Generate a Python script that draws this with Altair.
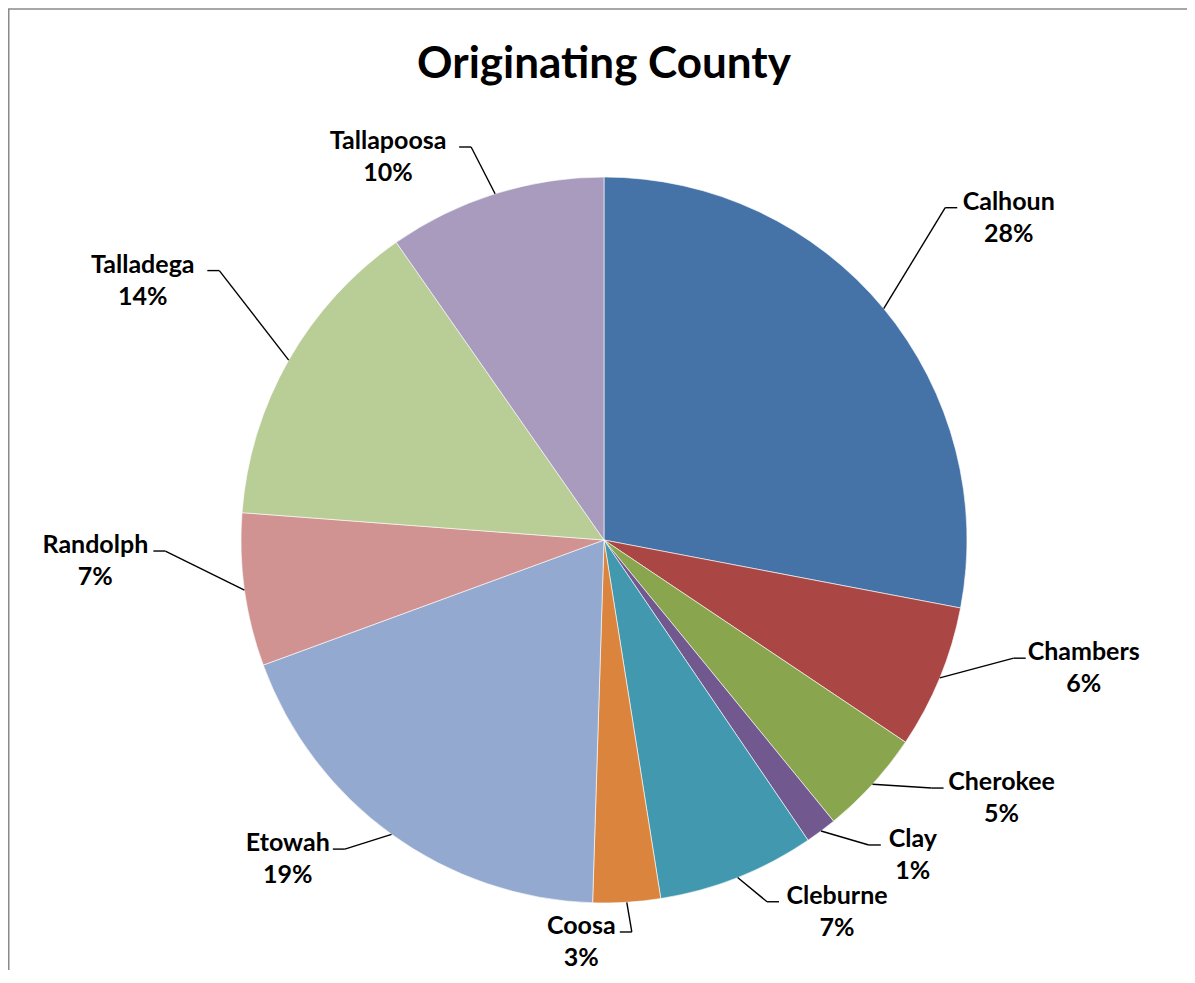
import altair as alt
import pandas as pd

# ---- data ----
counties = ["Calhoun", "Chambers", "Cherokee", "Clay", "Cleburne",
            "Coosa", "Etowah", "Randolph", "Talladega", "Tallapoosa"]
shares = [28.0, 6.4, 4.7, 1.4, 7.0, 3.0, 18.9, 6.8, 14.1, 9.7]
colors = ["#4572A7", "#AA4643", "#89A54E", "#71588F", "#4198AF",
          "#DB843D", "#93A9CF", "#D19392", "#B9CD96", "#A99BBD"]
title_text = ["Originating County"]

# ---- layout / style parameters ----
W, H = 1179, 962          # plot area
CX, CY = 596, 532         # pie centre in plot pixels
R = 363                   # pie radius
K = 1.22                  # leader elbow radius factor
LIFT = 50                 # labels sit a little higher than the slice middle
YMIN, YMAX = -392, 393    # keep labels inside the chart box
HSEG = 12                 # horizontal leader segment
GAP = 6                   # gap between leader and label
CHW = 13                  # approx label char width
FONT = "Lato"

df = pd.DataFrame({"county": counties, "value": shares,
                   "idx": list(range(len(counties)))})

xs = alt.Scale(domain=[-CX, W - CX], nice=False, zero=False)
ys = alt.Scale(domain=[CY - H, CY], nice=False, zero=False)

base = alt.Chart(df)

pie = base.mark_arc(outerRadius=R, stroke="white", strokeWidth=0.6).encode(
    theta=alt.Theta("value:Q", stack=True),
    color=alt.Color("county:N", scale=alt.Scale(domain=counties, range=colors),
                    legend=None),
    order=alt.Order("idx:Q"),
    x=alt.XDatum(0, type="quantitative", scale=xs, axis=None),
    y=alt.YDatum(0, type="quantitative", scale=ys, axis=None),
)

geo = (
    base.transform_window(cum="sum(value)", sort=[alt.SortField("idx")])
    .transform_joinaggregate(total="sum(value)")
    .transform_calculate(mid="(datum.cum - datum.value/2)/datum.total*2*PI")
    .transform_calculate(x0=f"{R}*sin(datum.mid)")
    .transform_calculate(y0=f"{R}*cos(datum.mid)")
    .transform_calculate(ex=f"{K*R}*sin(datum.mid)")
    .transform_calculate(
        ey=f"clamp({K*R}*cos(datum.mid) + {LIFT}, {YMIN}, {YMAX})")
    .transform_calculate(side="datum.ex > 30 ? 1 : -1")
    .transform_calculate(hx=f"datum.ex + datum.side*{HSEG}")
    .transform_calculate(
        tx=f"datum.hx + datum.side*({GAP} + length(datum.county)*{CHW}/2)")
    .transform_calculate(
        label="datum.county + '\\n' + format(datum.value/datum.total, '.0%')")
)

lead1 = geo.mark_rule(color="black", strokeWidth=1.4).encode(
    x=alt.X("x0:Q", scale=xs, axis=None),
    y=alt.Y("y0:Q", scale=ys, axis=None),
    x2="ex:Q",
    y2="ey:Q",
)
lead2 = geo.mark_rule(color="black", strokeWidth=1.4).encode(
    x=alt.X("ex:Q", scale=xs, axis=None),
    x2="hx:Q",
    y=alt.Y("ey:Q", scale=ys, axis=None),
)
labels = geo.mark_text(font=FONT, fontSize=25, fontWeight="bold",
                       lineBreak="\n", lineHeight=32, baseline="alphabetic",
                       align="center", dy=2, color="black").encode(
    x=alt.X("tx:Q", scale=xs, axis=None),
    y=alt.Y("ey:Q", scale=ys, axis=None),
    text="label:N",
)

title = alt.Chart(pd.DataFrame({"t": title_text})).mark_text(
    font=FONT, fontSize=44, fontWeight="bold", baseline="alphabetic",
    align="center", color="black").encode(
    x=alt.XDatum(0, type="quantitative", scale=xs, axis=None),
    y=alt.value(70),
    text="t:N",
)

# chart-area border (its right and bottom sides run off the page)
frame = alt.Chart(pd.DataFrame({"f": [0]})).mark_rect(
    fillOpacity=0, stroke="#8a8a8a", strokeWidth=1.5).encode(
    x=alt.value(0.75), x2=alt.value(W + 40), y=alt.value(1), y2=alt.value(H + 40))

chart = alt.layer(pie, lead1, lead2, labels, title, frame).properties(
    width=W, height=H, padding=0,
    autosize=alt.AutoSizeParams(type="none"),
).configure(background="transparent").configure_view(strokeWidth=0, fill="transparent")

chart.save("out.html", embed_options={"renderer": "svg", "actions": False})
